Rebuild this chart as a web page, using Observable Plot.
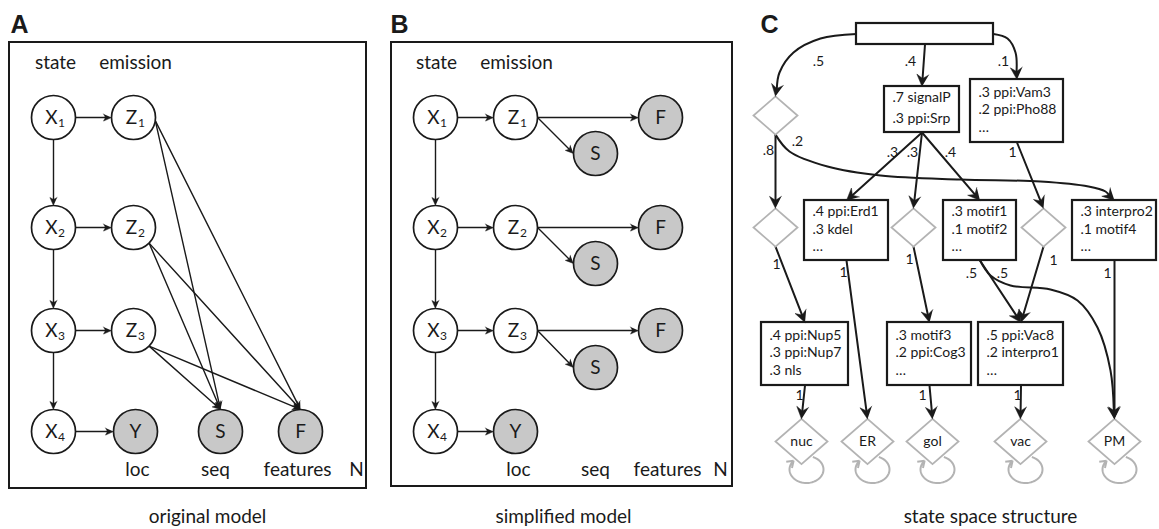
<!DOCTYPE html>
<html>
<head>
<meta charset="utf-8">
<script src="https://cdn.jsdelivr.net/npm/d3@7"></script>
<script src="https://cdn.jsdelivr.net/npm/@observablehq/plot@0.6"></script>
<style>
  html, body { margin: 0; padding: 0; background: #fff; }
  #chart svg { display: block; }
</style>
</head>
<body>
<div id="chart"></div>
<script>
// ================= DATA =================
// Panel letters and captions
const panelLetters = ["A", "B", "C"];
const panelLetterX = [10, 390, 760];
const panelCaptions = ["original model", "simplified model", "state space structure"];
const captionX = [207, 563, 990];

// Plates (rectangles) of panels A and B
const plates = [
  {panel: "A", x1: 9, y1: 42, x2: 366, y2: 488},
  {panel: "B", x1: 391, y1: 42, x2: 732, y2: 486}
];

// Header and footer words inside the plates
const headerWords = ["state", "emission"];
const headerXA = [55, 135];
const headerXB = [436, 516];
const footerWords = ["loc", "seq", "features", "N"];
const footerXA = [137, 215, 297, 356];
const footerXB = [518, 595, 667, 720];

// Panel A nodes
const nodesA = [
  {id: "X1", label: "X", sub: "1", x: 53, y: 117, observed: false},
  {id: "Z1", label: "Z", sub: "1", x: 133, y: 117, observed: false},
  {id: "X2", label: "X", sub: "2", x: 53, y: 227, observed: false},
  {id: "Z2", label: "Z", sub: "2", x: 133, y: 227, observed: false},
  {id: "X3", label: "X", sub: "3", x: 53, y: 330, observed: false},
  {id: "Z3", label: "Z", sub: "3", x: 133, y: 330, observed: false},
  {id: "X4", label: "X", sub: "4", x: 53, y: 431, observed: false},
  {id: "Y", label: "Y", sub: "", x: 135, y: 431, observed: true},
  {id: "S", label: "S", sub: "", x: 220, y: 431, observed: true},
  {id: "F", label: "F", sub: "", x: 300, y: 431, observed: true}
];
const edgesA = [
  ["X1", "Z1", "r", "l"], ["X1", "X2", "b", "t"],
  ["X2", "Z2", "r", "l"], ["X2", "X3", "b", "t"],
  ["X3", "Z3", "r", "l"], ["X3", "X4", "b", "t"],
  ["X4", "Y", "r", "l"],
  ["Z1", "S", "er", "t"], ["Z1", "F", "er", "t"],
  ["Z2", "S", "br", "t"], ["Z2", "F", "br", "t"],
  ["Z3", "S", "br", "t"], ["Z3", "F", "br", "t"]
];

// Panel B nodes
const nodesB = [
  {id: "X1", label: "X", sub: "1", x: 435, y: 117, observed: false},
  {id: "Z1", label: "Z", sub: "1", x: 515, y: 117, observed: false},
  {id: "F1", label: "F", sub: "", x: 660, y: 117, observed: true},
  {id: "S1", label: "S", sub: "", x: 595, y: 153, observed: true},
  {id: "X2", label: "X", sub: "2", x: 435, y: 227, observed: false},
  {id: "Z2", label: "Z", sub: "2", x: 515, y: 227, observed: false},
  {id: "F2", label: "F", sub: "", x: 660, y: 227, observed: true},
  {id: "S2", label: "S", sub: "", x: 595, y: 263, observed: true},
  {id: "X3", label: "X", sub: "3", x: 435, y: 330, observed: false},
  {id: "Z3", label: "Z", sub: "3", x: 515, y: 330, observed: false},
  {id: "F3", label: "F", sub: "", x: 660, y: 330, observed: true},
  {id: "S3", label: "S", sub: "", x: 595, y: 367, observed: true},
  {id: "X4", label: "X", sub: "4", x: 435, y: 431, observed: false},
  {id: "Y", label: "Y", sub: "", x: 515, y: 431, observed: true}
];
const edgesB = [
  ["X1", "Z1", "r", "l"], ["Z1", "F1", "r", "l"], ["Z1", "S1", "r", "l"], ["X1", "X2", "b", "t"],
  ["X2", "Z2", "r", "l"], ["Z2", "F2", "r", "l"], ["Z2", "S2", "r", "l"], ["X2", "X3", "b", "t"],
  ["X3", "Z3", "r", "l"], ["Z3", "F3", "r", "l"], ["Z3", "S3", "r", "l"], ["X3", "X4", "b", "t"],
  ["X4", "Y", "r", "l"]
];

// Panel C: emission boxes
const boxesC = [
  {id: "root", x1: 856, x2: 993, y1: 23, y2: 44, lines: []},
  {id: "signalP", x1: 884, x2: 959, y1: 86, y2: 132, lines: [".7 signalP", ".3 ppi:Srp"]},
  {id: "vam3", x1: 970, x2: 1063, y1: 79, y2: 142, lines: [".3 ppi:Vam3", ".2 ppi:Pho88", "…"]},
  {id: "erd1", x1: 804, x2: 888, y1: 200, y2: 260, lines: [".4 ppi:Erd1", ".3 kdel", "…"]},
  {id: "motif", x1: 943, x2: 1016, y1: 200, y2: 260, lines: [".3 motif1", ".1 motif2", "…"]},
  {id: "interpro2", x1: 1072, x2: 1156, y1: 200, y2: 260, lines: [".3 interpro2", ".1 motif4", "…"]},
  {id: "nup", x1: 761, x2: 848, y1: 322, y2: 385, lines: [".4 ppi:Nup5", ".3 ppi:Nup7", ".3 nls"]},
  {id: "cog3", x1: 887, x2: 971, y1: 322, y2: 385, lines: [".3 motif3", ".2 ppi:Cog3", "…"]},
  {id: "vac8", x1: 978, x2: 1063, y1: 322, y2: 385, lines: [".5 ppi:Vac8", ".2 interpro1", "…"]}
];
// Panel C: silent (diamond) states and terminal compartments
const silentC = [
  {id: "d1", x: 775, y: 115}, {id: "d2", x: 775, y: 227},
  {id: "d3", x: 913, y: 227}, {id: "d4", x: 1043, y: 227}
];
const compartmentsC = [
  {id: "nuc", x: 801, y: 441}, {id: "ER", x: 867, y: 441}, {id: "gol", x: 932, y: 441},
  {id: "vac", x: 1020, y: 441}, {id: "PM", x: 1114, y: 441}
];
// Panel C transitions
const edgesC = [
  {from: "root", to: "signalP", fp: "b", tp: "t"},
  {from: "root", to: "d1", fp: "l", tp: "t", via: [[820, 38], [793, 52], [779, 72]]},
  {from: "root", to: "vam3", fp: "r", tp: "t", via: [[1007, 38], [1015, 52]]},
  {from: "d1", to: "d2", fp: "b", tp: "t"},
  {from: "d1", to: "interpro2", fp: "b", tp: "t", via: [[789, 151], [827, 166], [880, 175], [960, 179], [1040, 181], [1088, 186], [1105, 191]]},
  {from: "signalP", to: "erd1", fp: "b", tp: "t"},
  {from: "signalP", to: "d3", fp: "b", tp: "t"},
  {from: "signalP", to: "motif", fp: "b", tp: "t"},
  {from: "vam3", to: "d4", fp: "b", tp: "t"},
  {from: "d2", to: "nup", fp: "b", tp: "t"},
  {from: "erd1", to: "ER", fp: "b", tp: "t"},
  {from: "d3", to: "cog3", fp: "b", tp: "t"},
  {from: "motif", to: "vac8", fp: "b", tp: "t"},
  {from: "motif", to: "PM", fp: "b", tp: "t", via: [[990, 275], [1010, 285], [1050, 289], [1077, 300], [1097, 327], [1110, 370]]},
  {from: "d4", to: "vac8", fp: "b", tp: "t"},
  {from: "interpro2", to: "PM", fp: "b", tp: "t"},
  {from: "nup", to: "nuc", fp: "b", tp: "t"},
  {from: "cog3", to: "gol", fp: "b", tp: "t"},
  {from: "vac8", to: "vac", fp: "b", tp: "t"}
];
// Transition probabilities (label text and position)
const probLabels = [".5", ".4", ".1", ".8", ".2", ".3", ".3", ".4", "1", "1", "1", "1", ".5", ".5", "1", "1", "1", "1", "1"];
const probX = [818, 910, 1003, 768, 797, 892, 912, 950, 1012, 776, 843, 909, 971, 1002, 1053, 1107, 799, 922, 1017];
const probY = [61, 61, 61, 150, 141, 152, 152, 152, 152, 264, 272, 259, 273, 273, 260, 273, 395, 395, 395];

// ================= BUILD GEOMETRY =================
const R = 22;            // node circle radius
const DIAMOND_SMALL = 22, DIAMOND_LARGE = 26, ASPECT = 0.87;
const portVec = {r: [1, 0], l: [-1, 0], t: [0, -1], b: [0, 1], br: [0.71, 0.71], er: [0.99, 0.14]};

const nodeMap = new Map();
nodesA.forEach(n => nodeMap.set("A" + n.id, {...n, kind: "circle"}));
nodesB.forEach(n => nodeMap.set("B" + n.id, {...n, kind: "circle"}));
boxesC.forEach(b => nodeMap.set("C" + b.id, {...b, kind: "box"}));
silentC.forEach(d => nodeMap.set("C" + d.id, {...d, kind: "diamond", size: DIAMOND_SMALL}));
compartmentsC.forEach(d => nodeMap.set("C" + d.id, {...d, kind: "diamond", size: DIAMOND_LARGE}));

function endpoint(key, port) {
  const n = nodeMap.get(key);
  if (n.kind === "circle") { const v = portVec[port]; return [n.x + R * v[0], n.y + R * v[1]]; }
  if (n.kind === "box") {
    const cx = (n.x1 + n.x2) / 2, cy = (n.y1 + n.y2) / 2;
    return port === "t" ? [cx, n.y1] : port === "b" ? [cx, n.y2] : port === "l" ? [n.x1, cy] : [n.x2, cy];
  }
  const hw = n.size, hh = n.size * ASPECT;
  return port === "t" ? [n.x, n.y - hh] : port === "b" ? [n.x, n.y + hh] : port === "l" ? [n.x - hw, n.y] : [n.x + hw, n.y];
}

function buildArrow(pts, head, id, shaftOut, headOut) {
  const [tx, ty] = pts[pts.length - 1], [px, py] = pts[pts.length - 2];
  const L = Math.hypot(tx - px, ty - py), ux = (tx - px) / L, uy = (ty - py) / L, nx = -uy, ny = ux;
  const back = head.len - head.notch;
  const se = [tx - ux * back, ty - uy * back];
  [...pts.slice(0, -1), se].forEach(([x, y]) => shaftOut.push({x, y, id}));
  [[tx, ty],
   [tx - ux * head.len + nx * head.half, ty - uy * head.len + ny * head.half],
   se,
   [tx - ux * head.len - nx * head.half, ty - uy * head.len - ny * head.half]
  ].forEach(([x, y]) => headOut.push({x, y, id}));
}

const headAB = {len: 8, half: 3.6, notch: 2};
const headC = {len: 12, half: 6, notch: 4};
const shaftsAB = [], headsAB = [], shaftsC = [], headsC = [];
edgesA.forEach(([f, t, fp, tp], i) => buildArrow([endpoint("A" + f, fp), endpoint("A" + t, tp)], headAB, "A" + i, shaftsAB, headsAB));
edgesB.forEach(([f, t, fp, tp], i) => buildArrow([endpoint("B" + f, fp), endpoint("B" + t, tp)], headAB, "B" + i, shaftsAB, headsAB));
edgesC.forEach((e, i) => buildArrow([endpoint("C" + e.from, e.fp), ...(e.via || []), endpoint("C" + e.to, e.tp)], headC, "C" + i, shaftsC, headsC));

const circles = [...nodesA, ...nodesB];
const boxLines = boxesC.flatMap(b => {
  const gap = b.lines.length === 2 ? 21 : 17.5;
  const cy = (b.y1 + b.y2) / 2 - 1;
  return b.lines.map((text, i) => ({text, x: b.x1 + 8, y: cy + (i - (b.lines.length - 1) / 2) * gap}));
});
const headerRows = [
  ...headerWords.map((w, i) => ({text: w, x: headerXA[i]})),
  ...headerWords.map((w, i) => ({text: w, x: headerXB[i]}))
];
const footerRows = [
  ...footerWords.map((w, i) => ({text: w, x: footerXA[i]})),
  ...footerWords.map((w, i) => ({text: w, x: footerXB[i]}))
];
const probRows = probLabels.map((t, i) => ({text: t, x: probX[i], y: probY[i]}));

// custom symbols
const diamondSymbol = {
  draw(ctx, size) {
    const r = Math.sqrt(size / Math.PI), h = r * ASPECT;
    ctx.moveTo(0, -h); ctx.lineTo(r, 0); ctx.lineTo(0, h); ctx.lineTo(-r, 0); ctx.closePath();
  }
};
const loopSymbol = {
  draw(ctx, size) {
    const s = Math.sqrt(size / Math.PI) / 26;
    const cx = 5 * s, cy = 28 * s, rx = 17 * s, ry = 13.5 * s;
    const a0 = -68 * Math.PI / 180, a1 = 221 * Math.PI / 180, n = 48;
    for (let k = 0; k <= n; ++k) {
      const a = a0 + (a1 - a0) * k / n, x = cx + rx * Math.cos(a), y = cy + ry * Math.sin(a);
      k ? ctx.lineTo(x, y) : ctx.moveTo(x, y);
    }
    const tx = cx + rx * Math.cos(a1), ty = cy + ry * Math.sin(a1);
    let dx = -rx * Math.sin(a1), dy = ry * Math.cos(a1);
    const L = Math.hypot(dx, dy); dx /= L; dy /= L;
    const hl = 7.5 * s, ang = 0.6;
    for (const sg of [1, -1]) {
      const c = Math.cos(sg * ang), sn = Math.sin(sg * ang);
      const bx = -(dx * c - dy * sn), by = -(dx * sn + dy * c);
      ctx.moveTo(tx, ty); ctx.lineTo(tx + bx * hl, ty + by * hl);
    }
  }
};

// ================= PLOT =================
const INK = "#1a1a1a", GREY = "#b3b3b3", OBS = "#c8c8c8";
const chart = Plot.plot({
  width: 1159,
  height: 529,
  margin: 0,
  x: {domain: [0, 1159], range: [0, 1159], axis: null},
  y: {domain: [0, 529], range: [0, 529], axis: null},
  style: {fontFamily: "Lato, 'Open Sans', sans-serif", background: "#fff", color: INK, overflow: "visible"},
  marks: [
    // plates
    Plot.rect(plates, {x1: "x1", x2: "x2", y1: "y1", y2: "y2", fill: "none", stroke: INK, strokeWidth: 2}),
    // edges
    Plot.line(shaftsAB, {x: "x", y: "y", z: "id", stroke: INK, strokeWidth: 1.4}),
    Plot.line(shaftsC, {x: "x", y: "y", z: "id", stroke: INK, strokeWidth: 2, curve: "catmull-rom"}),
    // circle nodes
    Plot.dot(circles, {x: "x", y: "y", r: R, fill: d => d.observed ? OBS : "#fff", stroke: INK, strokeWidth: 1.7}),
    // boxes and diamonds
    Plot.rect(boxesC, {x1: "x1", x2: "x2", y1: "y1", y2: "y2", fill: "#fff", stroke: INK, strokeWidth: 2.2}),
    Plot.dot(silentC, {x: "x", y: "y", r: DIAMOND_SMALL, symbol: diamondSymbol, fill: "#fff", stroke: GREY, strokeWidth: 1.8}),
    Plot.dot(compartmentsC, {x: "x", y: "y", r: DIAMOND_LARGE, symbol: diamondSymbol, fill: "#fff", stroke: GREY, strokeWidth: 1.8}),
    Plot.dot(compartmentsC, {x: "x", y: "y", r: DIAMOND_LARGE, symbol: loopSymbol, fill: "none", stroke: GREY, strokeWidth: 2}),
    // arrow heads
    Plot.line(headsAB, {x: "x", y: "y", z: "id", fill: INK, stroke: INK, strokeWidth: 0.5}),
    Plot.line(headsC, {x: "x", y: "y", z: "id", fill: INK, stroke: INK, strokeWidth: 0.5}),
    // node labels
    Plot.text(circles, {x: d => d.sub ? d.x - 2 : d.x, y: "y", text: "label", fontSize: 19}),
    Plot.text(circles.filter(d => d.sub), {x: d => d.x + 8, y: d => d.y + 6, text: "sub", fontSize: 12}),
    // plate texts
    Plot.text(headerRows, {x: "x", y: 62, text: "text", fontSize: 19}),
    Plot.text(footerRows, {x: "x", y: 469, text: "text", fontSize: 19}),
    // panel C texts
    Plot.text(boxLines, {x: "x", y: "y", text: "text", textAnchor: "start", fontSize: 14}),
    Plot.text(compartmentsC, {x: "x", y: "y", text: "id", fontSize: 14}),
    Plot.text(probRows, {x: "x", y: "y", text: "text", fontSize: 14}),
    // panel letters & captions
    Plot.text(panelLetters, {x: (d, i) => panelLetterX[i], y: 24, text: d => d, textAnchor: "start", fontSize: 25, fontWeight: "bold", fontFamily: "'Liberation Sans', Arial, sans-serif"}),
    Plot.text(panelCaptions, {x: (d, i) => captionX[i], y: 516, text: d => d, fontSize: 19})
  ]
});
document.getElementById("chart").append(chart);
</script>
</body>
</html>
